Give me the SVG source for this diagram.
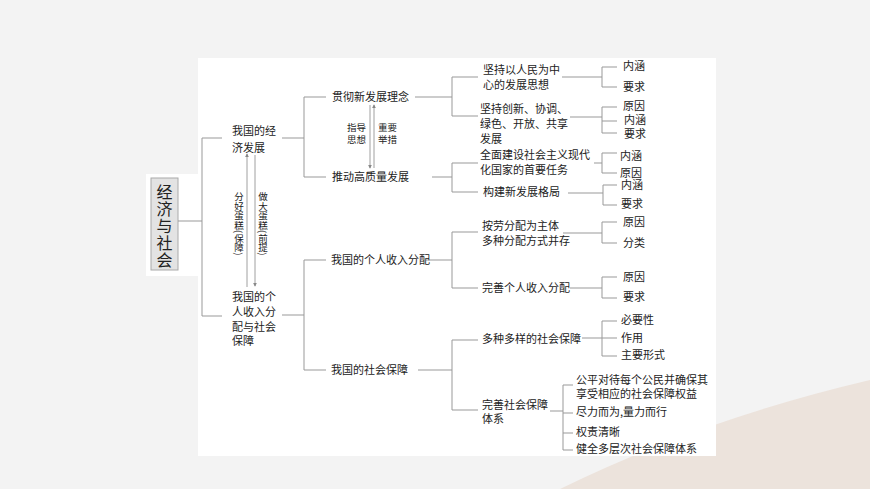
<svg xmlns="http://www.w3.org/2000/svg" width="870" height="489" viewBox="0 0 870 489">
<defs>
<style>
text{font-family:"Noto Sans CJK SC","Noto Sans CJK JP",sans-serif;font-size:11px;fill:#222}
.c{stroke:#999;stroke-width:1;fill:none}
.a{stroke:#888;stroke-width:0.8;fill:none}
.v{writing-mode:tb;font-size:9.5px}
</style>
<marker id="ah" viewBox="0 0 6 6" refX="5" refY="3" markerWidth="5" markerHeight="5" orient="auto"><path d="M0,0 L6,3 L0,6 z" fill="#888"/></marker>
</defs>
<rect width="870" height="489" fill="#f3f3f3"/>
<path d="M560,489 Q700,420 870,380 L870,489 Z" fill="#ece3dc"/>
<rect x="198" y="58" width="518" height="398" fill="#fff"/>
<rect x="146" y="174" width="52" height="102" fill="#fff"/>
<g id="title"><rect x="151" y="178" width="27" height="92" fill="#e3e3e3" stroke="#aaa"/>
<text x="164.5" y="184" style="writing-mode:tb;font-size:16px;letter-spacing:1px">经济与社会</text></g>
<g id="connectors">
<path class="c" d="M178,221H202M222,138H202V316H222"/>
<path class="c" d="M282,138H304M326,97H304V177H326"/>
<path class="c" d="M282,315H304M326,260H304V370H326"/>
<path class="c" d="M415,97H452M478,77H452V116H478"/>
<path class="c" d="M432,177H452M478,163H452V192H478"/>
<path class="c" d="M426,260H452M478,232H452V288H478"/>
<path class="c" d="M418,370H452M478,340H452V410H478"/>
<path class="c" d="M562,77H602M617,67H602V87H617"/>
<path class="c" d="M570,117H602M617,107H602V133H617M602,121H617"/>
<path class="c" d="M594,163H602M617,153H602V173H617"/>
<path class="c" d="M568,193H603M617,185H603V205H617"/>
<path class="c" d="M563,233H602M617,222H602V243H617"/>
<path class="c" d="M570,288H602M617,277H602V298H617"/>
<path class="c" d="M582,338H617M617,321H602V356H617"/>
<path class="c" d="M550,411H563M573,385H563V450H573M563,413H573M563,433H573"/>
<path class="a" d="M370,105V168" marker-end="url(#ah)"/>
<path class="a" d="M374,168V105" marker-end="url(#ah)"/>
<path class="a" d="M247,287V154" marker-end="url(#ah)"/>
<path class="a" d="M255,155V286" marker-end="url(#ah)"/>
</g>
<g id="n1"><text x="232" y="135">我国的经</text><text x="232" y="152">济发展</text></g>
<g id="n2"><text x="232" y="301">我国的个</text><text x="232" y="316">人收入分</text><text x="232" y="331">配与社会</text><text x="232" y="345">保障</text></g>
<g id="lbl1"><text class="v" x="239" y="192">分好蛋糕(保障)</text><text class="v" x="263" y="192">做大蛋糕(前提)</text></g>
<g id="lbl2"><text x="347" y="131" style="font-size:9.5px">指导</text><text x="347" y="143" style="font-size:9.5px">思想</text><text x="378" y="131" style="font-size:9.5px">重要</text><text x="378" y="143" style="font-size:9.5px">举措</text></g>
<g id="n3"><text x="332" y="101">贯彻新发展理念</text></g>
<g id="n4"><text x="332" y="181">推动高质量发展</text></g>
<g id="n5"><text x="331" y="264">我国的个人收入分配</text></g>
<g id="n6"><text x="331" y="374">我国的社会保障</text></g>
<g id="n7"><text x="483" y="74">坚持以人民为中</text><text x="483" y="89">心的发展思想</text></g>
<g id="n8"><text x="480" y="113">坚持创新、协调、</text><text x="480" y="128">绿色、开放、共享</text><text x="480" y="143">发展</text></g>
<g id="n9"><text x="480" y="159">全面建设社会主义现代</text><text x="480" y="174">化国家的首要任务</text></g>
<g id="n10"><text x="483" y="196">构建新发展格局</text></g>
<g id="n11"><text x="482" y="230">按劳分配为主体</text><text x="482" y="245">多种分配方式并存</text></g>
<g id="n12"><text x="482" y="292">完善个人收入分配</text></g>
<g id="n13"><text x="482" y="343">多种多样的社会保障</text></g>
<g id="n14"><text x="482" y="409">完善社会保障</text><text x="482" y="423">体系</text></g>
<g id="leaves">
<text x="623" y="70">内涵</text><text x="623" y="91">要求</text>
<text x="623" y="110">原因</text><text x="624" y="124">内涵</text><text x="624" y="138">要求</text>
<text x="620" y="160">内涵</text><text x="620" y="177">原因</text>
<text x="621" y="189">内涵</text><text x="621" y="208">要求</text>
<text x="623" y="226">原因</text><text x="623" y="247">分类</text>
<text x="623" y="281">原因</text><text x="623" y="301">要求</text>
<text x="621" y="324">必要性</text><text x="621" y="342">作用</text><text x="621" y="359">主要形式</text>
<text x="576" y="384">公平对待每个公民并确保其</text><text x="576" y="398">享受相应的社会保障权益</text>
<text x="576" y="416">尽力而为,量力而行</text><text x="576" y="436">权责清晰</text><text x="576" y="453">健全多层次社会保障体系</text>
</g>
</svg>
